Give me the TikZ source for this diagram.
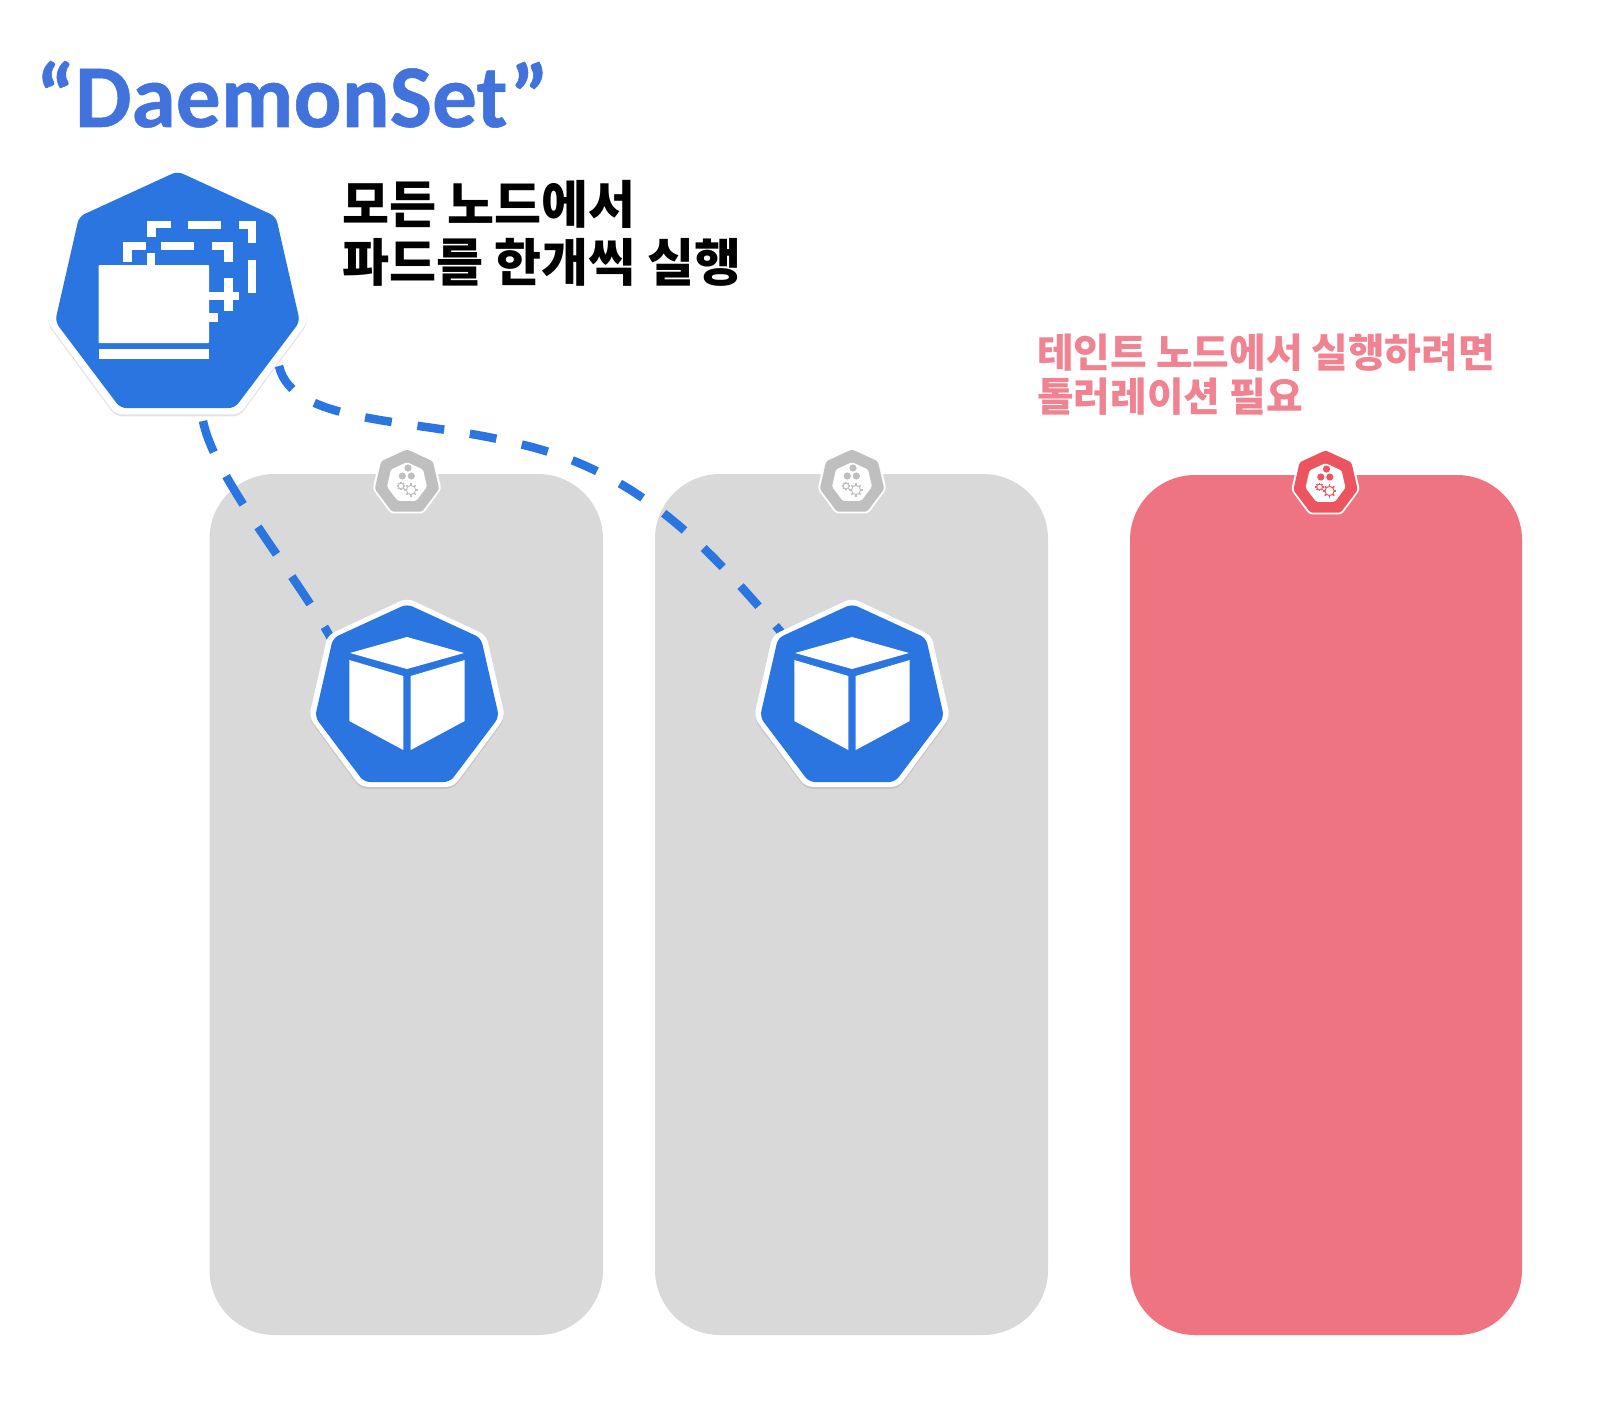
\documentclass[tikz,border=0pt]{standalone}
\usepackage{fontspec}
\setmainfont{Carlito}
\newfontfamily\kr{Noto Sans CJK KR}
\usetikzlibrary{shadows}
\definecolor{kblue}{HTML}{2A75E0}
\definecolor{titleblue}{HTML}{4273DC}
\definecolor{cardgray}{HTML}{D9D9D9}
\definecolor{cardpink}{HTML}{EE7482}
\definecolor{hexgray}{HTML}{BFBFBF}
\definecolor{hexpink}{HTML}{EC5560}
\definecolor{textpink}{HTML}{F08291}
\tikzset{
  card/.style={rounded corners=65pt,line width=0pt},
  softshadow/.style={drop shadow={opacity=.22,shadow xshift=0pt,shadow yshift=-2pt}},
  linkline/.style={draw=kblue,line width=8.5pt},
  headline/.style={inner sep=0pt,align=left,anchor=north west,font=\kr\bfseries},
}
% heptagon outline, radius about 100 units
\newcommand{\heptpath}[1]{(0,-96-#1) -- (74+#1*.9,-62-#1*.45) -- (92+#1,17) -- (43+#1*.6,82+#1*.8) -- (-43-#1*.6,82+#1*.8) -- (-92-#1,17) -- (-74-#1*.9,-62-#1*.45) -- cycle}
% big blue hexagon: centre, scale
\newcommand{\bighex}[3]{%
  \begin{scope}[shift={(#1,#2)},scale=#3]
    \fill[white,rounded corners=7pt,softshadow] \heptpath{6};
    \fill[kblue,rounded corners=6pt] \heptpath{0};
  \end{scope}}
\newcommand{\cube}[2]{%
  \begin{scope}[shift={(#1,#2)}]
    \fill[white] (0,-63) -- (57,-47) -- (0,-31) -- (-57,-47) -- cycle;
    \fill[white] (-57.7,-40) -- (-3.7,-24) -- (-3.7,50) -- (-57.7,21) -- cycle;
    \fill[white] (57.7,-40) -- (3.7,-24) -- (3.7,50) -- (57.7,21) -- cycle;
  \end{scope}}
% small gear
\newcommand{\gear}[5]{% x y radius colour hub
  \begin{scope}[shift={(#1,#2)}]
    \foreach \a in {0,45,...,315}{\draw[#4,line width=1.5pt] (\a:#3) -- (\a:#3*1.45);}
    \draw[#4,line width=1pt,fill=#5] (0,0) circle (#3);
  \end{scope}}
% node agent hexagon
\newcommand{\agent}[3]{% x y colour
  \begin{scope}[shift={(#1,#2)}]
    \begin{scope}[scale=.35]
      \fill[white,rounded corners=3pt] \heptpath{6};
      \fill[#3,rounded corners=2.5pt] \heptpath{0};
      \begin{scope}[scale=.62]
        \fill[white,rounded corners=1.5pt] \heptpath{0};
      \end{scope}
    \end{scope}
    \fill[#3] (1,-15) circle (3.6);
    \fill[#3] (-4.7,-7) circle (3.6);
    \fill[#3] (4.3,-7) circle (3.6);
    \gear{4}{7}{4.6}{#3}{white}
    \gear{-6}{3}{2.9}{#3}{white}
  \end{scope}}
\begin{document}
\begin{tikzpicture}[x=1pt,y=-1pt]
\useasboundingbox (0,0) rectangle (1619,1426);
\fill[white] (0,0) rectangle (1619,1426);

% worker cards
\fill[cardgray,card] (209.5,474) rectangle (603,1335);
\fill[cardgray,card] (655,474) rectangle (1048,1335);
\fill[cardpink,card] (1130,475) rectangle (1522,1335);

% anchor points
\coordinate (dsa) at (203,421);
\coordinate (dsb) at (279,366);
\coordinate (pa) at (333,642);
\coordinate (pb) at (781,632);
\coordinate (bend) at (515,443);

% connectors
\draw[linkline,dash pattern=on 33pt off 27pt] (dsa) .. controls (215,480) and (297,575) .. (pa);
\draw[linkline,dash pattern=on 27pt off 26pt] (dsb) .. controls (292,425) and (415,418) .. (bend) .. controls (640,470) and (710,550) .. (pb);

% kubelet agents
\agent{407}{483}{hexgray}
\agent{852}{483}{hexgray}
\agent{1325.5}{484}{hexpink}

% pods
\bighex{407}{700}{1}
\cube{407}{700}
\bighex{852}{700}{1}
\cube{852}{700}

% DaemonSet hexagon
\bighex{177.5}{299}{1.33}
\begin{scope}[white]
  \fill[rounded corners=1pt] (98.5,265) rectangle (209,343);
  \fill (98.5,349) rectangle (209,359);
  \fill (147,221) rectangle (171,228); \fill (147,221) rectangle (156,237);
  \fill (188,221) rectangle (221,229);
  \fill (239,221) rectangle (256,229); \fill (247.5,221) rectangle (256,243);
  \fill (247.5,260) rectangle (256,293);
  \fill (122.5,242) rectangle (145.5,250); \fill (122.5,242) rectangle (131.6,262);
  \fill (147,253) rectangle (155,265);
  \fill (161,242) rectangle (194,250);
  \fill (212,242) rectangle (232.6,250); \fill (223.5,242) rectangle (232.6,262);
  \fill (223.5,278) rectangle (232.6,311);
  \fill (209,292) rectangle (239,300);
  \fill (209,313) rectangle (218,322);
\end{scope}

% texts
\node[inner sep=0pt,anchor=base west,text=titleblue,font=\fontsize{89.5}{89.5}\selectfont\bfseries\addfontfeature{FakeBold=0.6}] (title) at (36,127) {“DaemonSet”};
\node[headline,font=\kr\bfseries\fontsize{51.1}{57.5}\selectfont] (lead) at (342,180.5) {모든 노드에서\\파드를 한개씩 실행};
\node[headline,text=textpink,font=\kr\bfseries\fontsize{39.8}{44.5}\selectfont] (note) at (1037,333.5) {테인트 노드에서 실행하려면\\톨러레이션 필요};
\end{tikzpicture}
\end{document}
